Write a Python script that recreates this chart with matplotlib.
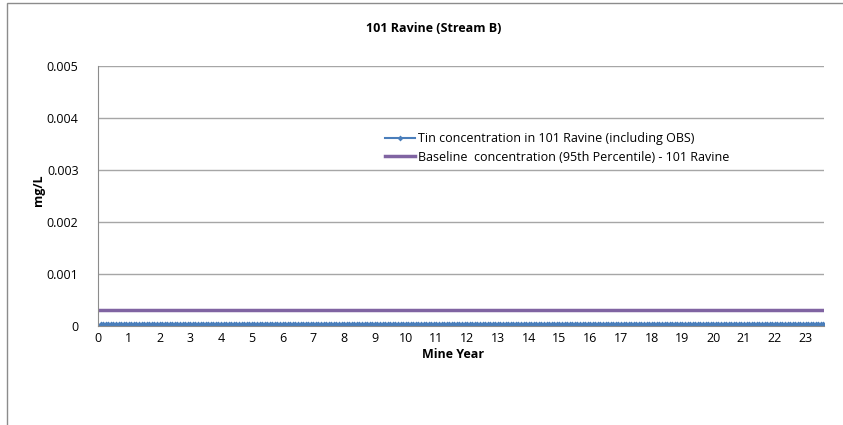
import numpy as np
import matplotlib
matplotlib.use("Agg")
import matplotlib.pyplot as plt
from matplotlib.patches import Rectangle

plt.rcParams['font.family'] = ['Open Sans', 'DejaVu Sans']

# monthly mine years, 0 .. ~23.6
mine_year = np.arange(284) / 12.0
tin_conc = [0.0] + [0.00003] * 283
baseline_x = [0.0, 23.6]
baseline_conc = [0.0003, 0.0003]
year_ticks = list(range(0, 24))
conc_ticks = [0, 0.001, 0.002, 0.003, 0.004, 0.005]
conc_labels = ["0", "0.001", "0.002", "0.003", "0.004", "0.005"]

fig = plt.figure(figsize=(8.43, 4.25), dpi=100)
# chart frame (cropped on the right / bottom)
fig.patches.append(Rectangle((7 / 843, -0.1), 1.0, 1 - 3 / 425 + 0.1,
                             transform=fig.transFigure, fill=False,
                             edgecolor="#8c8c8c", linewidth=1.0))

ax = fig.add_axes([98 / 843, 1 - 326 / 425, (824 - 98) / 843, (326 - 66) / 425])

ax.plot(mine_year, tin_conc, color="#4a7ebb", linewidth=1.5, marker="D",
        markersize=3, markeredgewidth=0, label="Tin concentration in 101 Ravine (including OBS)")
ax.plot(baseline_x, baseline_conc, color="#8064a2", linewidth=2.5,
        label="Baseline  concentration (95th Percentile) - 101 Ravine")

ax.set_xlim(0, 23.6)
ax.set_ylim(0, 0.005)
ax.set_xticks(year_ticks)
ax.set_xticklabels([str(y) for y in year_ticks], fontsize=9)
ax.set_yticks(conc_ticks)
ax.set_yticklabels(conc_labels, fontsize=9)
ax.tick_params(axis="x", length=0, pad=4)
ax.tick_params(axis="y", length=0, pad=14)

ax.grid(True, axis="y", color="#a6a6a6", linewidth=1.0)
ax.set_axisbelow(True)
for s in ["top", "right"]:
    ax.spines[s].set_visible(False)
for s in ["left", "bottom"]:
    ax.spines[s].set_color("#8c8c8c")

fig.text(434 / 843, 1 - 28 / 425, "101 Ravine (Stream B)", ha="center", va="center",
         fontsize=9, fontweight="bold")
fig.text(453 / 843, 1 - 354 / 425, "Mine Year", ha="center", va="center",
         fontsize=9, fontweight="bold")
fig.text(38 / 843, 1 - 190 / 425, "mg/L", ha="center", va="center", rotation=90,
         fontsize=9, fontweight="bold")

ax.legend(loc="upper left", bbox_to_anchor=((380 - 98) / 726, (326 - 127) / 260),
          frameon=False, fontsize=9, handlelength=2.4, handletextpad=0.2,
          labelspacing=0.45, borderaxespad=0)

fig.savefig("out.png", dpi=100)
